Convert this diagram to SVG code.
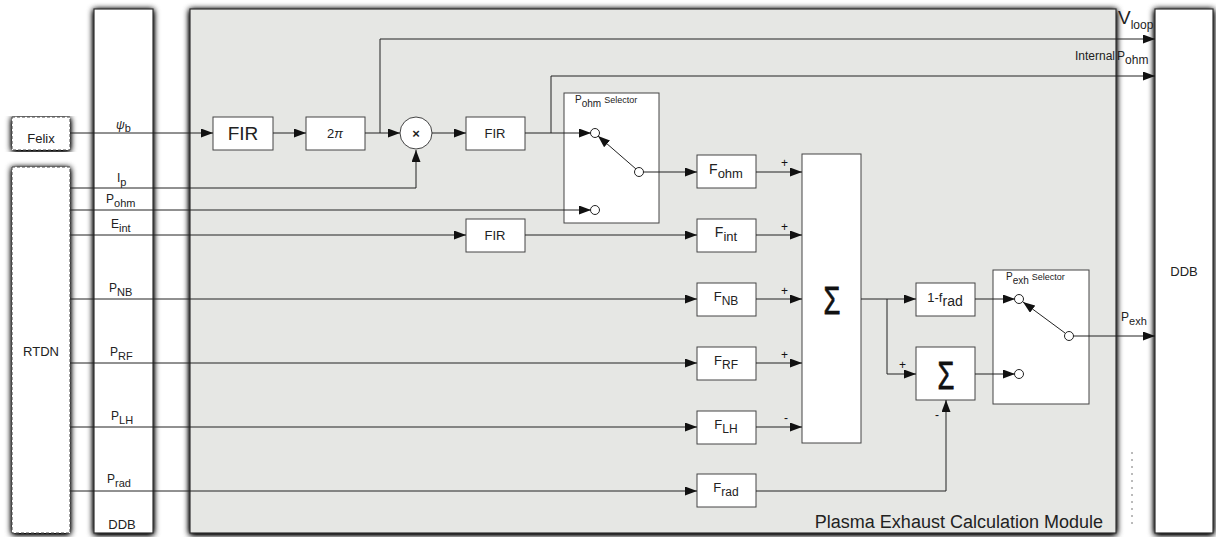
<svg xmlns="http://www.w3.org/2000/svg" width="1216" height="537" viewBox="0 0 1216 537">
  <defs>
    <filter id="shadow" x="-20%" y="-5%" width="140%" height="110%">
      <feGaussianBlur in="SourceAlpha" stdDeviation="3.2"/>
      <feOffset dx="0" dy="1" result="b"/>
      <feComponentTransfer><feFuncA type="linear" slope="1.6"/></feComponentTransfer>
      <feMerge><feMergeNode/><feMergeNode in="SourceGraphic"/></feMerge>
    </filter>
    <marker id="arr" markerWidth="13" markerHeight="9" refX="12" refY="4.5" orient="auto" markerUnits="userSpaceOnUse">
      <path d="M0,0 L12,4.5 L0,9 Z" fill="#111"/>
    </marker>
  </defs>
  <style>
    text { font-family: "Liberation Sans", Arial, sans-serif; fill: #222; }
    .col { fill: #fff; stroke: #333; stroke-width: 1.2; }
    .dash { fill: #fff; stroke: #444; stroke-width: 1; stroke-dasharray: 3 2; }
    .mod { fill: #e6e7e4; stroke: #333; stroke-width: 1.2; }
    .blk { fill: #fff; stroke: #444; stroke-width: 1; }
    .sel { fill: #fff; stroke: #444; stroke-width: 1; }
    .pin { fill: #fff; stroke: #222; stroke-width: 1; }
    .arrow { fill: none; stroke: #222; stroke-width: 1; marker-end: url(#arr); }
    .lbl { font-size: 12px; }
    .sub { font-size: 11px; }
    .box { font-size: 13px; text-anchor: middle; }
    .sign { font-size: 12px; fill: #111; }
    .sig { font-family: "Liberation Sans", Arial, sans-serif; font-size: 39px; text-anchor: middle; fill: #111; stroke: #111; stroke-width: 0.8; }
  </style>

  <!-- outer columns and module frame -->
  <g id="felix" filter="url(#shadow)">
    <rect class="dash" x="12" y="117" width="58" height="33"/>
  </g>
  <text class="lbl" x="41" y="143" text-anchor="middle" style="font-size:13px">Felix</text>

  <g id="rtdn" filter="url(#shadow)">
    <rect class="dash" x="12" y="167" width="58" height="366"/>
  </g>
  <text class="lbl" x="41" y="356" text-anchor="middle" style="font-size:13px">RTDN</text>

  <g id="ddb-in" filter="url(#shadow)">
    <rect class="col" x="94" y="9" width="59" height="524"/>
  </g>
  <text x="122" y="529" text-anchor="middle" style="font-size:13px">DDB</text>

  <g id="module" filter="url(#shadow)">
    <rect class="mod" x="190" y="9" width="926" height="524"/>
  </g>
  <text x="1103" y="528" text-anchor="end" style="font-size:18px">Plasma Exhaust Calculation Module</text>

  <g id="ddb-out" filter="url(#shadow)">
    <rect class="col" x="1155" y="9" width="58" height="524"/>
  </g>
  <text x="1184" y="276" text-anchor="middle" style="font-size:13px">DDB</text>

  <!-- faint scan marks between module and output column -->
  <line x1="1132" y1="452" x2="1132" y2="528" stroke="#777" stroke-width="1" stroke-dasharray="2 5"/>

  <!-- input signal labels -->
  <g id="input-labels">
    <text class="lbl" x="116" y="129"><tspan font-style="italic">ψ</tspan><tspan class="sub" dy="3">b</tspan></text>
    <text class="lbl" x="117" y="182">I<tspan class="sub" dy="4">p</tspan></text>
    <text class="lbl" x="106" y="203">P<tspan class="sub" dy="4">ohm</tspan></text>
    <text class="lbl" x="111" y="228">E<tspan class="sub" dy="4">int</tspan></text>
    <text class="lbl" x="109" y="292">P<tspan class="sub" dy="4">NB</tspan></text>
    <text class="lbl" x="110" y="356">P<tspan class="sub" dy="4">RF</tspan></text>
    <text class="lbl" x="111" y="420">P<tspan class="sub" dy="4">LH</tspan></text>
    <text class="lbl" x="107" y="483">P<tspan class="sub" dy="4">rad</tspan></text>
  </g>

  <!-- processing blocks -->
  <g id="fir1"><rect class="blk" x="213" y="117" width="60" height="33"/><text x="243" y="140" text-anchor="middle" style="font-size:19px">FIR</text></g>
  <g id="twopi"><rect class="blk" x="306" y="117" width="59" height="33"/><text class="box" x="335" y="138">2<tspan font-style="italic">π</tspan></text></g>
  <g id="mult"><circle class="blk" cx="416" cy="133" r="16"/><text x="416" y="138" text-anchor="middle" style="font-size:13px;font-weight:bold">×</text></g>
  <g id="fir2"><rect class="blk" x="466" y="117" width="59" height="33"/><text class="box" x="495" y="138">FIR</text></g>
  <g id="fir3"><rect class="blk" x="466" y="219" width="59" height="33"/><text class="box" x="495" y="240">FIR</text></g>

  <g id="pohm-selector">
    <rect class="sel" x="564" y="93" width="95" height="130"/>
    <text x="575" y="103" style="font-size:10px">P<tspan dy="4">ohm</tspan><tspan dy="-4" dx="3" style="font-size:9px">Selector</tspan></text>
  </g>

  <g id="f-ohm"><rect class="blk" x="697" y="155" width="59" height="33"/><text x="726" y="174" text-anchor="middle" style="font-size:14px">F<tspan dy="4" style="font-size:13px">ohm</tspan></text></g>
  <g id="f-int"><rect class="blk" x="697" y="219" width="59" height="33"/><text x="726" y="237" text-anchor="middle" style="font-size:14px">F<tspan dy="4" style="font-size:13px">int</tspan></text></g>
  <g id="f-nb"><rect class="blk" x="697" y="283" width="59" height="33"/><text x="726" y="301" text-anchor="middle" style="font-size:13px">F<tspan dy="4" style="font-size:12px">NB</tspan></text></g>
  <g id="f-rf"><rect class="blk" x="697" y="347" width="59" height="33"/><text x="726" y="365" text-anchor="middle" style="font-size:13px">F<tspan dy="4" style="font-size:12px">RF</tspan></text></g>
  <g id="f-lh"><rect class="blk" x="697" y="411" width="59" height="33"/><text x="726" y="429" text-anchor="middle" style="font-size:13px">F<tspan dy="4" style="font-size:12px">LH</tspan></text></g>
  <g id="f-rad"><rect class="blk" x="697" y="474" width="59" height="33"/><text x="726" y="492" text-anchor="middle" style="font-size:13px">F<tspan dy="4" style="font-size:12px">rad</tspan></text></g>

  <g id="sum-main"><rect class="blk" x="802" y="154" width="59" height="289"/><text class="sig" transform="translate(832,314) scale(0.7,1)">Σ</text></g>
  <g id="one-minus-frad"><rect class="blk" x="916" y="283" width="59" height="33"/><text x="945" y="302" text-anchor="middle" style="font-size:13px">1-f<tspan dy="4" style="font-size:14px">rad</tspan></text></g>
  <g id="sum-small"><rect class="blk" x="916" y="347" width="59" height="53"/><text class="sig" transform="translate(946,389) scale(0.7,1)">Σ</text></g>

  <g id="pexh-selector">
    <rect class="sel" x="993" y="270" width="96" height="134"/>
    <text x="1006" y="280" style="font-size:10px">P<tspan dy="4">exh</tspan><tspan dy="-4" dx="3" style="font-size:9px">Selector</tspan></text>
  </g>

  <!-- connectors -->
  <g id="connectors">
    <path class="arrow" d="M70,133 H213"/>
    <path class="arrow" d="M273,133 H306"/>
    <path class="arrow" d="M365,133 H400"/>
    <path class="arrow" d="M380,133 V39 H1155"/>
    <path class="arrow" d="M70,188 H416 V150"/>
    <path class="arrow" d="M432,133 H466"/>
    <path class="arrow" d="M525,133 H591"/>
    <path class="arrow" d="M551,133 V76 H1155"/>
    <path class="arrow" d="M70,210 H591"/>
    <path class="arrow" d="M643,172 H697"/>
    <path class="arrow" d="M636,169 L598,136"/>
    <path class="arrow" d="M756,172 H802"/>
    <path class="arrow" d="M70,235 H466"/>
    <path class="arrow" d="M525,235 H697"/>
    <path class="arrow" d="M756,235 H802"/>
    <path class="arrow" d="M70,299 H697"/>
    <path class="arrow" d="M756,299 H802"/>
    <path class="arrow" d="M70,363 H697"/>
    <path class="arrow" d="M756,363 H802"/>
    <path class="arrow" d="M70,427 H697"/>
    <path class="arrow" d="M756,427 H802"/>
    <path class="arrow" d="M70,491 H697"/>
    <path class="arrow" d="M756,491 H946 V400"/>
    <path class="arrow" d="M861,299 H916"/>
    <path class="arrow" d="M887,299 V374 H916"/>
    <path class="arrow" d="M975,299 H1015"/>
    <path class="arrow" d="M975,374 H1015"/>
    <path class="arrow" d="M1065,333 L1023,302"/>
    <path class="arrow" d="M1073,336 H1155"/>
    <!-- switch contacts -->
    <circle class="pin" cx="595" cy="133" r="4.5"/>
    <circle class="pin" cx="595" cy="210" r="4.5"/>
    <circle class="pin" cx="639" cy="172" r="4.5"/>
    <circle class="pin" cx="1019" cy="299" r="4.5"/>
    <circle class="pin" cx="1019" cy="374" r="4.5"/>
    <circle class="pin" cx="1069" cy="336" r="4.5"/>
    <!-- summing signs -->
    <text class="sign" x="781" y="167">+</text>
    <text class="sign" x="781" y="231">+</text>
    <text class="sign" x="781" y="295">+</text>
    <text class="sign" x="781" y="359">+</text>
    <text class="sign" x="784" y="422">-</text>
    <text class="sign" x="899" y="369">+</text>
    <text class="sign" x="935" y="419">-</text>
    <!-- output labels -->
    <text x="1118" y="24" style="font-size:19px">V<tspan dy="5" style="font-size:12px">loop</tspan></text>
    <text x="1075" y="60" style="font-size:12px">Internal<tspan dx="2">P</tspan><tspan dy="4" style="font-size:12px">ohm</tspan></text>
    <text x="1121" y="321" style="font-size:12px">P<tspan dy="4" style="font-size:11px">exh</tspan></text>
  </g>
</svg>
